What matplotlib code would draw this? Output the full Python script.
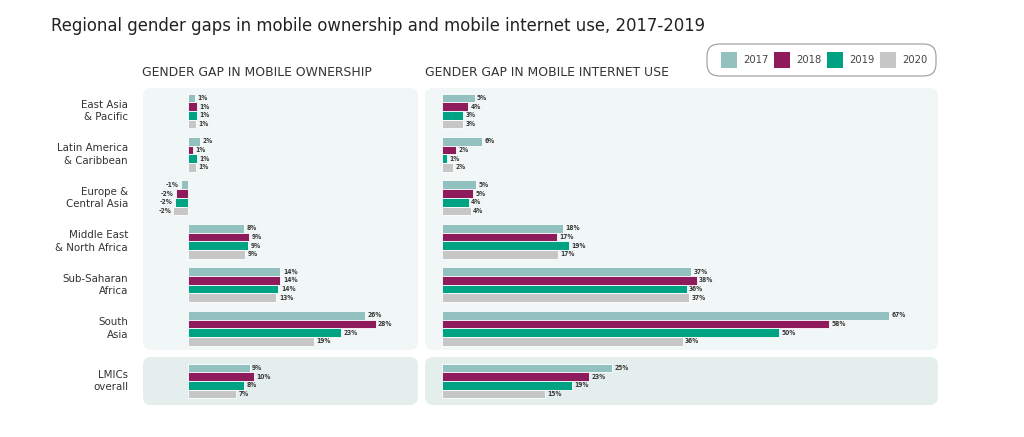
import numpy as np
import matplotlib
matplotlib.use('Agg')
import matplotlib.pyplot as plt
from matplotlib.patches import FancyBboxPatch, Rectangle

# Data
regions = ['East Asia\n& Pacific', 'Latin America\n& Caribbean', 'Europe &\nCentral Asia',
           'Middle East\n& North Africa', 'Sub-Saharan\nAfrica', 'South\nAsia']
overall = 'LMICs\noverall'
years = ['2017', '2018', '2019', '2020']
colors = ['#93c1bf', '#8e1b5c', '#00a284', '#c6c6c6']

# gender gap in mobile ownership (%), one list per year, regions then LMICs last
own_2017 = [1.1, 1.8, -1.1, 8.4, 13.8, 26.4, 9.2]
own_2018 = [1.4, 0.7, -1.8, 9.1, 13.8, 28.0, 9.8]
own_2019 = [1.3, 1.3, -2.0, 9.0, 13.5, 22.8, 8.4]
own_2020 = [1.2, 1.2, -2.2, 8.5, 13.2, 18.8, 7.2]
own_labels = [['1%', '2%', '-1%', '8%', '14%', '26%', '9%'],
              ['1%', '1%', '-2%', '9%', '14%', '28%', '10%'],
              ['1%', '1%', '-2%', '9%', '14%', '23%', '8%'],
              ['1%', '1%', '-2%', '9%', '13%', '19%', '7%']]

# gender gap in mobile internet use (%)
net_2017 = [4.9, 6.0, 5.1, 18.1, 37.4, 67.0, 25.5]
net_2018 = [3.9, 2.1, 4.7, 17.2, 38.2, 58.0, 22.1]
net_2019 = [3.2, 0.7, 4.0, 19.0, 36.7, 50.5, 19.5]
net_2020 = [3.2, 1.6, 4.3, 17.4, 37.1, 36.1, 15.4]
net_labels = [['5%', '6%', '5%', '18%', '37%', '67%', '25%'],
              ['4%', '2%', '5%', '17%', '38%', '58%', '23%'],
              ['3%', '1%', '4%', '19%', '36%', '50%', '19%'],
              ['3%', '2%', '4%', '17%', '37%', '36%', '15%']]

W, H = 1024, 437
fig = plt.figure(figsize=(W / 100, H / 100), dpi=100)
fig.patch.set_facecolor('white')
FONT = 'DejaVu Sans'


def fx(px):
    return px / W


def fy(py):
    return 1 - py / H


def rounded_bg(x0, y0, x1, y1, color):
    p = FancyBboxPatch((fx(x0), fy(y1)), fx(x1) - fx(x0), fy(y0) - fy(y1),
                       boxstyle='round,pad=0,rounding_size=0.008',
                       transform=fig.transFigure, facecolor=color,
                       edgecolor='none', zorder=-5, mutation_aspect=W / H)
    fig.patches.append(p)


# panel backgrounds
rounded_bg(143, 88, 418, 350, '#f1f6f6')
rounded_bg(425, 88, 938, 350, '#f1f6f6')
rounded_bg(143, 357, 418, 405, '#e4efed')
rounded_bg(425, 357, 938, 405, '#e4efed')

fig.text(fx(51), fy(26), 'Regional gender gaps in mobile ownership and mobile internet use, 2017-2019',
         fontsize=11.9, color='#222222', va='center', ha='left', family=FONT)
fig.text(fx(142), fy(72), 'GENDER GAP IN MOBILE OWNERSHIP', fontsize=8.9,
         color='#333333', va='center', family=FONT)
fig.text(fx(425), fy(72), 'GENDER GAP IN MOBILE INTERNET USE', fontsize=8.9,
         color='#333333', va='center', family=FONT)

# legend box
leg = FancyBboxPatch((fx(707), fy(76)), fx(936) - fx(707), fy(44) - fy(76),
                     boxstyle='round,pad=0,rounding_size=0.012',
                     transform=fig.transFigure, facecolor='white',
                     edgecolor='#9a9a9a', linewidth=0.8, mutation_aspect=W / H, zorder=5)
fig.patches.append(leg)
for i, (yr, c) in enumerate(zip(years, colors)):
    x0 = 721 + i * 53
    fig.patches.append(Rectangle((fx(x0), fy(68)), fx(16), 16 / H,
                                 transform=fig.transFigure, facecolor=c,
                                 edgecolor='none', zorder=6))
    fig.text(fx(x0 + 22), fy(60), yr, fontsize=7.2, color='#444444',
             va='center', ha='left', family=FONT, zorder=7)

own_series = [own_2017, own_2018, own_2019, own_2020]
net_series = [net_2017, net_2018, net_2019, net_2020]
row = 8.7  # pixel height of one bar row


def draw_panel(x0, x1, xmin, xmax, series, labels, y0, y1, idx, ylim):
    ax = fig.add_axes([fx(x0), fy(y1), fx(x1) - fx(x0), fy(y0) - fy(y1)])
    ax.patch.set_visible(False)
    for k, (vals, labs) in enumerate(zip(series, labels)):
        v = np.array(vals)[idx]
        lab = np.array(labs)[idx]
        pos = np.arange(len(v)) * 5 + 1 + k
        ax.barh(pos, v, height=1.0, color=colors[k], edgecolor='white', linewidth=0.6)
        for p, val, t in zip(pos, v, lab):
            if val >= 0:
                ax.text(val + 0.35, p, t, fontsize=4.8, fontweight='bold', color='#3a3a3a',
                        va='center', ha='left', fontstretch='condensed', family=FONT)
            else:
                ax.text(val - 0.3, p, t, fontsize=4.8, fontweight='bold', color='#3a3a3a',
                        va='center', ha='right', fontstretch='condensed', family=FONT)
    ax.set_xlim(xmin, xmax)
    ax.set_ylim(*ylim)
    ax.axis('off')
    return ax


top_idx = list(range(6))
bot_idx = [6]
top_lim = (30.0, -0.14)
bot_lim = (5.26, -0.26)

# ownership panel, zero at x=188, 6.7 px per percent
draw_panel(143, 418, -45 / 6.7, 230 / 6.7, own_series, own_labels, 88, 350, top_idx, top_lim)
draw_panel(143, 418, -45 / 6.7, 230 / 6.7, own_series, own_labels, 357, 405, bot_idx, bot_lim)
# internet panel, zero at x=442
draw_panel(425, 938, -17 / 6.67, 496 / 6.67, net_series, net_labels, 88, 350, top_idx, top_lim)
draw_panel(425, 938, -17 / 6.67, 496 / 6.67, net_series, net_labels, 357, 405, bot_idx, bot_lim)

# category labels
for i, name in enumerate(regions + [overall]):
    if i < 6:
        ypx = 88 + (2.5 + 5 * i + 0.14) * row
    else:
        ypx = 357 + (2.5 + 0.26) * row
    fig.text(fx(128), fy(ypx), name, fontsize=7.4, color='#333333', ha='right',
             va='center', multialignment='right', family=FONT, linespacing=1.35)

fig.savefig('out.png', dpi=100)
